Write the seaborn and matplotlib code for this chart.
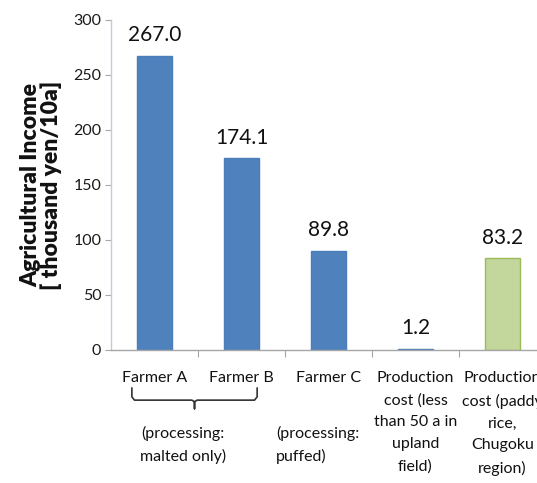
import matplotlib
matplotlib.use("Agg")
import matplotlib.pyplot as plt
import seaborn as sns
import pandas as pd

categories = [
    "Farmer A",
    "Farmer B",
    "Farmer C",
    "Production\ncost (less\nthan 50 a in\nupland\nfield)",
    "Production\ncost (paddy\nrice,\nChugoku\nregion)",
]
income = [267.0, 174.1, 89.8, 1.2, 83.2]
bar_colors = ["#4F81BD", "#4F81BD", "#4F81BD", "#4F81BD", "#C3D69B"]
edge_colors = ["#4A7EBB", "#4A7EBB", "#4A7EBB", "#4A7EBB", "#9BBB59"]
y_ticks = [0, 50, 100, 150, 200, 250, 300]

sns.set_theme(style="white")
plt.rcParams["font.family"] = ["Lato", "DejaVu Sans"]

df = pd.DataFrame({"category": categories, "income": income})

fig = plt.figure(figsize=(5.37, 4.83), dpi=100)
ax = fig.add_axes([0.2067, 0.2754, 0.81, 0.6832])

sns.barplot(data=df, x="category", y="income", hue="category",
            palette=bar_colors, width=0.4, legend=False, ax=ax,
            saturation=1, linewidth=1.0)
for patch, ec in zip(ax.patches, edge_colors):
    patch.set_edgecolor(ec)

ax.set_xlim(-0.5, len(categories) - 0.5)
ax.set_ylim(0, 300)
ax.set_yticks(y_ticks)
ax.set_yticklabels([str(t) for t in y_ticks], fontsize=11.5, color="#1a1a1a")

# value labels above bars
for i, v in enumerate(income):
    ax.annotate(f"{v:.1f}", xy=(i, v), xytext=(0, 15), textcoords="offset points",
                ha="center", va="center", fontsize=15, color="#111111")

# category labels
ax.set_xticks(range(len(categories)))
ax.set_xticklabels(categories, fontsize=11.5, color="#111111", linespacing=1.72,
                   va="top")
ax.tick_params(axis="x", length=0, pad=15)
ax.tick_params(axis="y", left=True, length=4, width=0.8, color="#A6A6A6", pad=3)

# minor ticks at the category boundaries
ax.set_xticks([i + 0.5 for i in range(len(categories) - 1)], minor=True)
ax.tick_params(axis="x", which="minor", bottom=True, length=5, width=0.8,
               color="#A6A6A6")

for side in ("top", "right"):
    ax.spines[side].set_visible(False)
ax.spines["left"].set_color("#B9CDE5")
ax.spines["bottom"].set_color("#A6A6A6")
ax.spines["left"].set_linewidth(1.0)
ax.spines["bottom"].set_linewidth(1.0)

ax.set_xlabel("")
ax.set_ylabel("Agricultural Income\n[ thousand yen/10a]", fontsize=16.5,
              fontweight="heavy", color="#111111", linespacing=0.95, labelpad=8)

# bracket grouping Farmer A and Farmer B
trans = ax.get_xaxis_transform()
yb_top, yb_mid, yb_tip = -0.115, -0.152, -0.178
xl, xr, xc = -0.26, 1.18, 0.46
r = 0.03
bx = [xl, xl, xl + r, xc - r, xc, xc, xc, xc + r, xr - r, xr, xr]
by = [yb_top, yb_mid + 0.01, yb_mid, yb_mid, yb_mid - 0.005, yb_tip, yb_mid - 0.005,
      yb_mid, yb_mid, yb_mid + 0.01, yb_top]
ax.plot(bx, by, transform=trans, color="#333333", lw=1.2, clip_on=False,
        solid_joinstyle="round", solid_capstyle="round")

ax.text(0.33, -0.288, "(processing:\nmalted only)", transform=trans,
        ha="center", va="center", fontsize=11.5, color="#111111", linespacing=1.62)
ax.text(1.4, -0.288, "(processing:\npuffed)", transform=trans,
        ha="left", va="center", fontsize=11.5, color="#111111", linespacing=1.62)

fig.savefig("out.png", dpi=100)
